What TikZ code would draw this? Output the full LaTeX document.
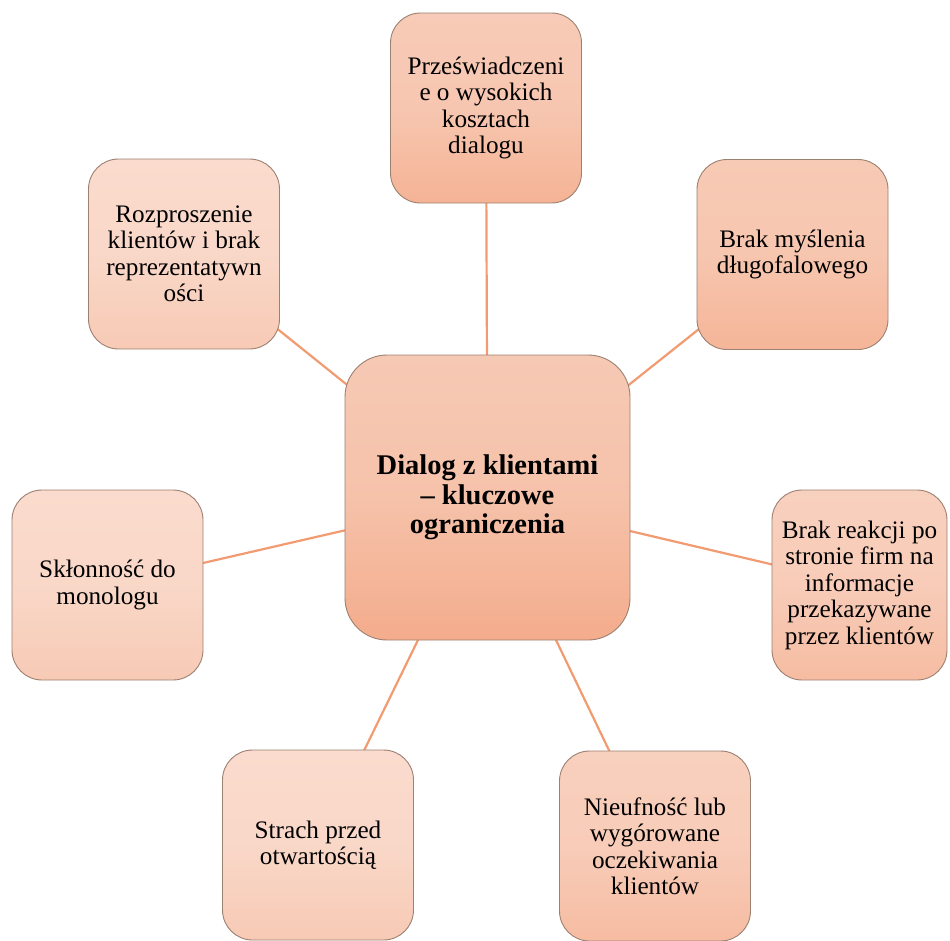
\documentclass[tikz,border=0pt]{standalone}
\usepackage{fontspec}
\setmainfont{Liberation Serif}
\pgfdeclarelayer{background}
\pgfsetlayers{background,main}

% peach shades, light top / deeper bottom
\definecolor{cTop}{HTML}{F6C9B4}\definecolor{cBot}{HTML}{F4AC8C}
\definecolor{aTop}{HTML}{F7CBB7}\definecolor{aBot}{HTML}{F5B395}
\definecolor{bTop}{HTML}{F7CAB5}\definecolor{bBot}{HTML}{F5B598}
\definecolor{lTop}{HTML}{FADBCD}\definecolor{lBot}{HTML}{F7CAB5}
\definecolor{mTop}{HTML}{F8D0BE}\definecolor{mBot}{HTML}{F6BCA2}
\definecolor{edge}{HTML}{9C8071}
\definecolor{link}{HTML}{F29B70}

\tikzset{
  box/.style={draw=edge, line width=0.9pt, rounded corners=30pt,
    minimum width=191pt, minimum height=190pt, inner sep=0pt,
    align=center, text=black,
    font=\fontsize{25.2}{26.5}\selectfont},
  hub/.style={box, rounded corners=42pt, minimum width=285pt, minimum height=285pt,
    font=\fontsize{28.5}{29.5}\selectfont\bfseries},
  shadeA/.style={top color=aTop, bottom color=aBot, middle color=aTop!80!aBot},
  shadeB/.style={top color=bTop, bottom color=bBot, middle color=bTop!80!bBot},
  shadeL/.style={top color=lTop, bottom color=lBot, middle color=lTop!80!lBot},
  shadeM/.style={top color=mTop, bottom color=mBot, middle color=mTop!80!mBot},
  shadeC/.style={top color=cTop, bottom color=cBot, middle color=cTop!75!cBot},
  spoke/.style={draw=link, line width=2.2pt},
}

\begin{document}
\begin{tikzpicture}[x=1pt, y=-1pt]
  \useasboundingbox (0,0) rectangle (950,940);

  \node[hub, shadeC] (hub) at (487.5,497.5) {Dialog z klientami\\– kluczowe\\ograniczenia};

  \node[box, shadeA] (cost) at (486,108) {Przeświadczeni\\e o wysokich\\kosztach\\dialogu};
  \node[box, shadeB] (long) at (792.5,254.5) {Brak myślenia\\długofalowego};
  \node[box, shadeL] (disp) at (184,254) {Rozproszenie\\klientów i brak\\reprezentatywn\\ości};
  \node[box, shadeL] (mono) at (107.5,585) {Skłonność do\\monologu};
  \node[box, shadeM, minimum width=175pt] (react) at (859.5,585) {Brak reakcji po\\stronie firm na\\informacje\\przekazywane\\przez klientów};
  \node[box, shadeL] (fear) at (318,845) {Strach przed\\otwartością};
  \node[box, shadeM] (trust) at (655,846) {Nieufność lub\\wygórowane\\oczekiwania\\klientów};

  \begin{pgfonlayer}{background}
    \foreach \n in {cost,long,disp,mono,react,fear,trust}
      \draw[spoke] (hub.center) -- (\n.center);
  \end{pgfonlayer}
\end{tikzpicture}
\end{document}
